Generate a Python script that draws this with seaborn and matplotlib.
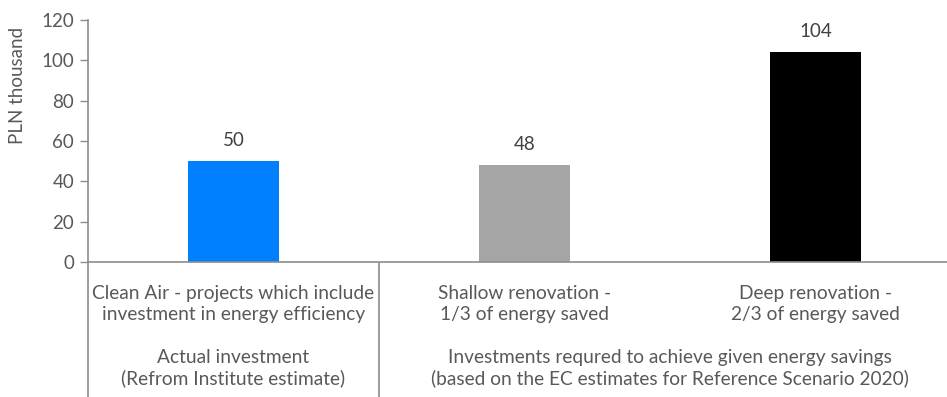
import matplotlib
matplotlib.use("Agg")
import matplotlib.pyplot as plt
import matplotlib.transforms as mtransforms
import seaborn as sns
import pandas as pd

categories = [
    "Clean Air - projects which include\ninvestment in energy efficiency",
    "Shallow renovation -\n1/3 of energy saved",
    "Deep renovation -\n2/3 of energy saved",
]
values = [50, 48, 104]
colors = ["#0080FF", "#A5A5A5", "#000000"]
groups = [
    "Actual investment\n(Refrom Institute estimate)",
    "Investments requred to achieve given energy savings\n(based on the EC estimates for Reference Scenario 2020)",
]
group_members = [[0], [1, 2]]
y_ticks = [0, 20, 40, 60, 80, 100, 120]
y_label = "PLN thousand"

sns.set_theme(style="white")
plt.rcParams["font.family"] = ["Lato", "DejaVu Sans"]

text_color = "#595959"
line_color = "#8C8C8C"

df = pd.DataFrame({"category": categories, "value": values})

fig = plt.figure(figsize=(9.47, 3.97), dpi=100)
W, H = 947, 397
left_px, right_px, bottom_px, top_px = 88, 961, 262, 20
ax = fig.add_axes([left_px / W, 1 - bottom_px / H,
                   (right_px - left_px) / W, (bottom_px - top_px) / H])

sns.barplot(data=df, x="category", y="value", hue="category",
            palette=colors, width=0.315, legend=False, ax=ax,
            saturation=1, edgecolor="none")

ax.set_xlim(-0.5, len(categories) - 0.5)
ax.set_ylim(0, 120)
ax.set_yticks(y_ticks)
ax.set_yticklabels([str(t) for t in y_ticks], fontsize=13.5, color=text_color)
ax.tick_params(axis="y", length=6, width=1, color=line_color, pad=4, left=True)
ax.set_xticks([])
ax.set_xlabel("")
ax.set_ylabel("")

for side in ["top", "right"]:
    ax.spines[side].set_visible(False)
for side in ["left", "bottom"]:
    ax.spines[side].set_color(line_color)
    ax.spines[side].set_linewidth(1.2)

for container in ax.containers:
    ax.bar_label(container, fmt="%g", padding=9, fontsize=13.5, color="#404040")

# axis title placed in the upper part of the left margin
fig.text(18 / W, 1 - 85 / H, y_label, rotation=90, ha="center", va="center",
         fontsize=13.5, color=text_color)

# category labels under the axis
trans = mtransforms.blended_transform_factory(ax.transData, fig.transFigure)
for i, label in enumerate(categories):
    ax.text(i, 1 - 304 / H, label, transform=trans, ha="center", va="center",
            fontsize=13.8, color=text_color, linespacing=1.25)

# group labels
for label, members in zip(groups, group_members):
    xc = (members[0] + members[-1]) / 2
    ax.text(xc, 1 - 368 / H, label, transform=trans, ha="center", va="center",
            fontsize=13.8, color=text_color, linespacing=1.25)

# separators between the groups, running from the axis to the figure bottom
for xs in [-0.5, 0.5]:
    ax.plot([xs, xs], [1 - bottom_px / H, 0], transform=trans, color=line_color,
            lw=1.2, clip_on=False, solid_capstyle="butt")

fig.savefig("out.png", dpi=100)
